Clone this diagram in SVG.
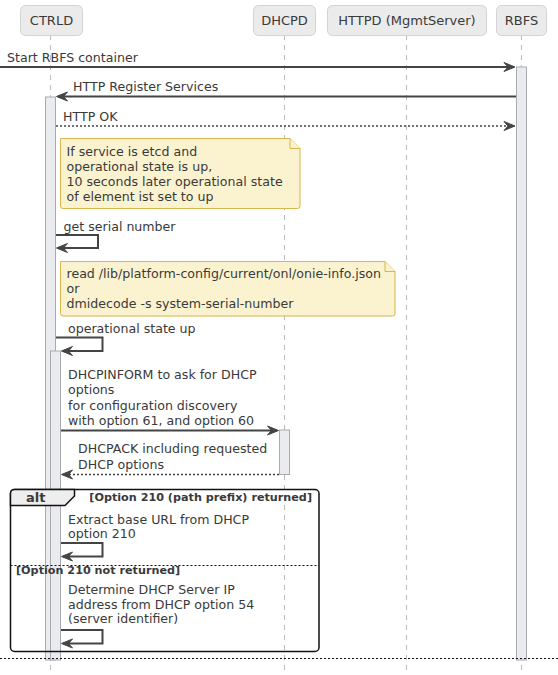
<svg xmlns="http://www.w3.org/2000/svg" width="558" height="675" viewBox="0 0 558 675">
<style>
text{font-family:"DejaVu Sans","Liberation Sans",sans-serif;font-size:12.6px;fill:#3A3A3A}
.pbox{fill:#EBEBEC;stroke:#D3D3D6;stroke-width:1}
.pt{font-size:13px;text-anchor:middle}
.life{stroke:#BBBBBB;stroke-width:1;stroke-dasharray:5,5}
.act{fill:#EAEBEE;stroke:#A8ABB2;stroke-width:1}
.msg{stroke:#444444;stroke-width:2;fill:none}
.dot{stroke:#444444;stroke-width:1.5;fill:none;stroke-dasharray:2,2}
.head{fill:#444444;stroke:#444444;stroke-width:1}
.note{fill:#FBF3D0;stroke:#D8B64C;stroke-width:1}
.b{font-weight:bold;font-size:11.2px}
</style>
<g id="lifelines">
<line class="life" x1="50.5" y1="35" x2="50.5" y2="675"/>
<line class="life" x1="284.5" y1="35" x2="284.5" y2="675"/>
<line class="life" x1="406.5" y1="35" x2="406.5" y2="675"/>
<line class="life" x1="521.5" y1="35" x2="521.5" y2="675"/>
</g>
<g id="CTRLD"><rect class="pbox" x="20.5" y="5.5" width="62" height="30" rx="5"/><text class="pt" x="51.5" y="25">CTRLD</text></g>
<g id="DHCPD"><rect class="pbox" x="253.5" y="5.5" width="62" height="30" rx="5"/><text class="pt" x="284.5" y="25">DHCPD</text></g>
<g id="HTTPD"><rect class="pbox" x="327.5" y="5.5" width="159" height="30" rx="5"/><text class="pt" x="407" y="25">HTTPD (MgmtServer)</text></g>
<g id="RBFS"><rect class="pbox" x="496.5" y="5.5" width="50" height="30" rx="5"/><text class="pt" x="521.5" y="25">RBFS</text></g>
<g id="activations">
<rect class="act" x="516.5" y="67" width="10" height="593"/>
<rect class="act" x="45.5" y="97" width="10" height="563"/>
<rect class="act" x="50.5" y="351" width="10" height="309"/>
<rect class="act" x="279.5" y="430" width="10" height="44.5"/>
</g>
<g id="notes">
<path class="note" d="M60.5,138.5 H290 L300,148.5 V206 Q300,208.5 297.5,208.5 H63 Q60.5,208.5 60.5,206 Z"/>
<path class="note" d="M290,138.5 V148.5 H300"/>
<text x="66.5" y="156">If service is etcd and</text>
<text x="66.5" y="171">operational state is up,</text>
<text x="66.5" y="186">10 seconds later operational state</text>
<text x="66.5" y="201">of element ist set to up</text>
<path class="note" d="M60.5,261.5 H385 L395,271.5 V313.5 Q395,316 392.5,316 H63 Q60.5,316 60.5,313.5 Z"/>
<path class="note" d="M385,261.5 V271.5 H395"/>
<text x="66.5" y="278">read /lib/platform-config/current/onl/onie-info.json</text>
<text x="66.5" y="293">or</text>
<text x="66.5" y="308">dmidecode -s system-serial-number</text>
</g>
<g id="alt">
<rect x="10.5" y="489.5" width="308.5" height="162" rx="4" fill="none" stroke="#111111" stroke-width="1.5"/>
<path d="M10.5,505.5 V493.5 Q10.5,489.5 14.5,489.5 H74.5 V496 L65,505.5 Z" fill="#EEEEEE" stroke="#111111" stroke-width="1.5"/>
<text x="26" y="502" style="font-weight:bold;font-size:13px">alt</text>
<text class="b" x="312" y="501" text-anchor="end">[Option 210 (path prefix) returned]</text>
<line x1="10.5" y1="565.5" x2="319" y2="565.5" stroke="#111111" stroke-width="1" stroke-dasharray="2,2"/>
<text class="b" x="16" y="574">[Option 210 not returned]</text>
</g>
<g id="connectors">
<line class="msg" x1="0" y1="67" x2="514" y2="67"/>
<polygon class="head" points="515,67 504,62.5 508,67 504,71.5"/>
<text x="7" y="62">Start RBFS container</text>
<line class="msg" x1="516" y1="96.5" x2="58" y2="96.5"/>
<polygon class="head" points="56.5,96.5 67.5,92 63.5,96.5 67.5,101"/>
<text x="73" y="91">HTTP Register Services</text>
<line class="dot" x1="56" y1="126" x2="514" y2="126"/>
<polygon class="head" points="515,126 504,121.5 508,126 504,130.5"/>
<text x="63" y="121">HTTP OK</text>
<path class="msg" d="M56,235 H98 V248 H58"/>
<polygon class="head" points="56.5,248 67.5,243.5 63.5,248 67.5,252.5"/>
<text x="63.5" y="231">get serial number</text>
<path class="msg" d="M56,337.5 H102.5 V351 H63"/>
<polygon class="head" points="61.5,351 72.5,346.5 68.5,351 72.5,355.5"/>
<text x="68" y="333">operational state up</text>
<line class="msg" x1="61" y1="430.5" x2="277" y2="430.5"/>
<polygon class="head" points="278.5,430.5 267.5,426 271.5,430.5 267.5,435"/>
<text x="68" y="379">DHCPINFORM to ask for DHCP</text>
<text x="68" y="394">options</text>
<text x="68" y="409.5">for configuration discovery</text>
<text x="68" y="424.5">with option 61, and option 60</text>
<line class="dot" x1="279" y1="474.5" x2="63" y2="474.5"/>
<polygon class="head" points="61.5,474.5 72.5,470 68.5,474.5 72.5,479"/>
<text x="78" y="453">DHCPACK including requested</text>
<text x="78" y="469">DHCP options</text>
<path class="msg" d="M61,543 H102.5 V556.5 H63"/>
<polygon class="head" points="61.5,556.5 72.5,552 68.5,556.5 72.5,561"/>
<text x="68" y="523.5">Extract base URL from DHCP</text>
<text x="68" y="538">option 210</text>
<path class="msg" d="M61,630 H102.5 V643.5 H63"/>
<polygon class="head" points="61.5,643.5 72.5,639 68.5,643.5 72.5,648"/>
<text x="68" y="593.5">Determine DHCP Server IP</text>
<text x="68" y="608.5">address from DHCP option 54</text>
<text x="68" y="623">(server identifier)</text>
<line x1="0" y1="658.5" x2="558" y2="658.5" stroke="#111111" stroke-width="1" stroke-dasharray="2,2"/>
</g>
</svg>
